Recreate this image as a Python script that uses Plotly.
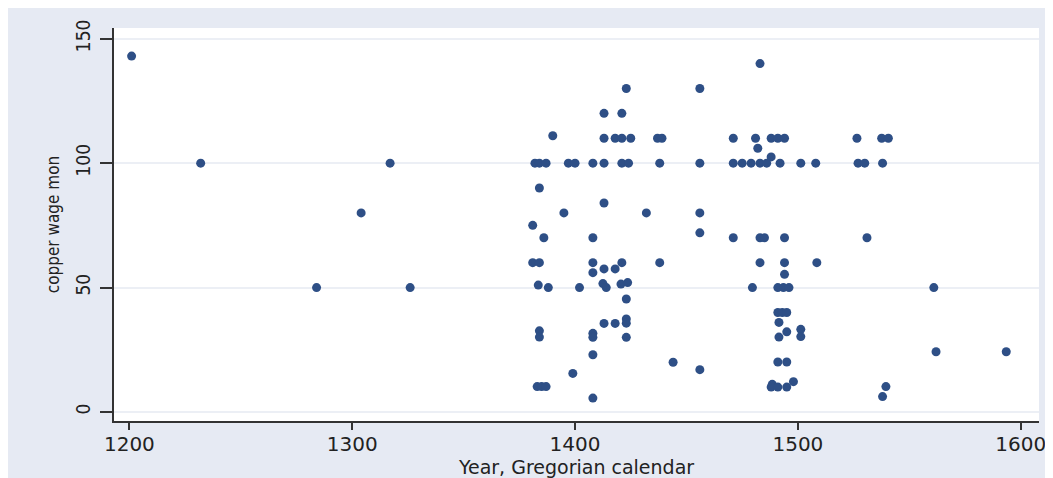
import plotly.graph_objects as go

# Year (Gregorian) and copper wage values
years = [
    1201, 1232, 1284, 1304, 1317, 1326,
    # ~1380-1460 cluster
    1382, 1384, 1387, 1397, 1400, 1408, 1413, 1421, 1424, 1438, 1456,
    1390, 1413, 1418, 1421, 1425, 1437, 1439,
    1413, 1421,
    1423, 1456,
    1384, 1413,
    1395, 1432, 1456,
    1381, 1456,
    1386, 1408,
    1381, 1384, 1408, 1421, 1438,
    1413, 1418, 1408,
    1383.5, 1388, 1402, 1412.5, 1414, 1420.6, 1423.6,
    1423,
    1423, 1423, 1413, 1418,
    1384, 1384, 1408, 1408, 1423,
    1408, 1444, 1456, 1399,
    1383, 1385, 1387, 1408,
    # ~1470-1545 cluster
    1483,
    1471, 1481, 1488, 1491, 1494, 1526.5, 1537.6, 1540.6,
    1482, 1488,
    1471, 1475, 1479, 1483, 1486, 1492, 1501.3, 1508, 1527, 1530, 1538,
    1471, 1483, 1485, 1494, 1531,
    1483, 1494, 1508.5,
    1494,
    1479.6, 1491, 1493.5, 1496, 1561,
    1491, 1493, 1495,
    1491.5, 1495, 1491.5,
    1501.3, 1501.3,
    1491, 1495,
    1562, 1593.5,
    1498, 1488.5, 1488, 1491, 1495,
    1539.5, 1538,
]

wages = [
    143, 100, 50, 80, 100, 50,
    100, 100, 100, 100, 100, 100, 100, 100, 100, 100, 100,
    111, 110, 110, 110, 110, 110, 110,
    120, 120,
    130, 130,
    90, 84,
    80, 80, 80,
    75, 72,
    70, 70,
    60, 60, 60, 60, 60,
    57.5, 57.5, 56,
    51, 50, 50, 51.6, 50, 51.4, 52,
    45.4,
    37.4, 35.7, 35.6, 35.6,
    32.6, 30.1, 31.6, 30, 30,
    23, 20, 17, 15.5,
    10.2, 10.2, 10.2, 5.6,
    140,
    110, 110, 110, 110, 110, 110, 110, 110,
    106, 102.5,
    100, 100, 100, 100, 100, 100, 100, 100, 100, 100, 100,
    70, 70, 70, 70, 70,
    60, 60, 60,
    55.3,
    50, 50, 50, 50, 50,
    40, 40, 40,
    36, 32.2, 30.1,
    33.2, 30.3,
    20.1, 20.1,
    24.2, 24.2,
    12.2, 11.1, 10, 10, 10,
    10.2, 6.2,
]

x_ticks = [1200, 1300, 1400, 1500, 1600]
y_ticks = [0, 50, 100, 150]

BG = "#e6eaf3"
DOT = "#2e4f86"
AXIS = "#333333"
GRID = "#eceff5"
TXT = "#222222"
NARROW = "DejaVu Sans Condensed, Liberation Sans Narrow, sans-serif"

fig = go.Figure(
    go.Scatter(
        x=years, y=wages, mode="markers",
        marker=dict(color=DOT, size=9, line=dict(width=0)),
        hoverinfo="x+y",
    )
)

fig.update_layout(
    width=1045, height=470,
    margin=dict(l=106, r=14, t=20, b=57, pad=0),
    paper_bgcolor=BG, plot_bgcolor="white",
    showlegend=False,
    font=dict(family="DejaVu Sans", color=TXT),
    xaxis=dict(
        range=[1193.1, 1608.2],
        tickmode="array", tickvals=x_ticks, ticktext=[str(v) for v in x_ticks],
        ticks="outside", ticklen=7, tickwidth=1.5, tickcolor=AXIS,
        ticklabelstandoff=-3,
        showline=True, linecolor=AXIS, linewidth=1.5,
        showgrid=False, zeroline=False,
        tickfont=dict(family="DejaVu Sans", size=20, color=TXT),
        title=dict(text="Year, Gregorian calendar", standoff=0,
                   font=dict(family="DejaVu Sans", size=19, color=TXT)),
        automargin=False,
    ),
    yaxis=dict(
        range=[-3.62, 154.3],
        tickmode="array", tickvals=y_ticks, ticktext=[str(v) for v in y_ticks],
        ticks="outside", ticklen=12, tickwidth=1.5, tickcolor=AXIS,
        tickangle=-90, ticklabelstandoff=3,
        showline=True, linecolor=AXIS, linewidth=1.5,
        showgrid=True, gridcolor=GRID, gridwidth=1.5,
        zeroline=False,
        tickfont=dict(family=NARROW, size=19, color=TXT),
        title=dict(text="copper wage mon", standoff=8,
                   font=dict(family=NARROW, size=17, color=TXT)),
        automargin=False,
    ),
)

fig.write_html("out.html")
